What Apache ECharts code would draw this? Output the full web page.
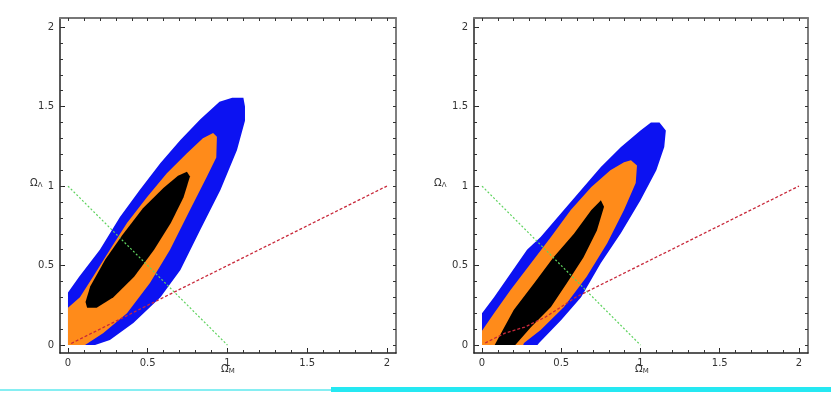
<!DOCTYPE html>
<html>
<head>
<meta charset="utf-8">
<script src="https://cdn.jsdelivr.net/npm/echarts@6/dist/echarts.min.js"></script>
<style>
html,body{margin:0;padding:0;background:#fff;}
#chart{width:831px;height:395px;}
</style>
</head>
<body>
<div id="chart"></div>
<script>
// ---- tick labels ----
const majorTicks = [0, 0.5, 1, 1.5, 2];
const tickLabels = ['0', '0.5', '1', '1.5', '2'];
const minorTicks = [0, 0.1, 0.2, 0.3, 0.4, 0.5, 0.6, 0.7, 0.8, 0.9, 1, 1.1, 1.2, 1.3, 1.4, 1.5, 1.6, 1.7, 1.8, 1.9, 2];

// ---- left panel: confidence regions (boundary points) ----
const leftBlue = [[0,0],[0,0.33],[0.07,0.43],[0.20,0.60],[0.326,0.805],[0.45,0.975],[0.58,1.145],[0.705,1.29],[0.83,1.42],[0.95,1.53],[1.03,1.555],[1.10,1.555],[1.11,1.50],[1.11,1.41],[1.06,1.226],[0.956,0.975],[0.83,0.725],[0.705,0.472],[0.58,0.30],[0.41,0.138],[0.263,0.031],[0.17,0]];
const leftOrange = [[0,0],[0,0.235],[0.075,0.30],[0.157,0.43],[0.263,0.60],[0.37,0.767],[0.495,0.93],[0.62,1.08],[0.746,1.207],[0.846,1.30],[0.91,1.333],[0.934,1.31],[0.93,1.18],[0.87,1.057],[0.765,0.849],[0.64,0.60],[0.514,0.39],[0.37,0.20],[0.22,0.075],[0.107,0]];
const leftBlack = [[0.11,0.27],[0.14,0.37],[0.235,0.54],[0.34,0.69],[0.47,0.86],[0.60,0.99],[0.69,1.065],[0.746,1.09],[0.765,1.06],[0.725,0.93],[0.645,0.767],[0.54,0.6],[0.415,0.43],[0.285,0.30],[0.18,0.235],[0.12,0.235]];
const leftFlat = [[0,1],[1,0]];
const leftQ0 = [[0.02,0.01],[1,0.5],[2,1]];

// ---- right panel ----
const rightBlue = [[0,0],[0,0.20],[0.076,0.30],[0.18,0.45],[0.284,0.60],[0.37,0.68],[0.50,0.83],[0.625,0.975],[0.75,1.12],[0.877,1.245],[1.0,1.35],[1.066,1.40],[1.12,1.40],[1.16,1.35],[1.15,1.245],[1.10,1.10],[1.0,0.91],[0.877,0.704],[0.75,0.516],[0.625,0.30],[0.50,0.157],[0.36,0.013],[0.35,0]];
const rightOrange = [[0,0],[0,0.09],[0.076,0.20],[0.18,0.346],[0.31,0.516],[0.435,0.68],[0.56,0.85],[0.69,0.994],[0.81,1.10],[0.896,1.15],[0.94,1.163],[0.978,1.13],[0.97,1.02],[0.896,0.85],[0.79,0.64],[0.66,0.43],[0.517,0.24],[0.37,0.094],[0.265,0.013],[0.26,0]];
const rightBlack = [[0.08,0],[0.12,0.075],[0.2,0.22],[0.33,0.39],[0.45,0.55],[0.58,0.70],[0.69,0.85],[0.74,0.90],[0.75,0.91],[0.77,0.87],[0.725,0.72],[0.64,0.55],[0.536,0.39],[0.435,0.24],[0.31,0.113],[0.21,0]];
const rightFlat = [[0,1],[1,0]];
const rightQ0 = [[0.02,0.013],[0.145,0.075],[0.27,0.113],[0.40,0.176],[0.50,0.24],[0.59,0.30],[2,1]];

const BLUE = '#0c12f2', ORANGE = '#ff8b1a', BLACK = '#000000';
const GREEN = '#5fd35f', RED = '#c8283a';

const chart = echarts.init(document.getElementById('chart'), null, {renderer: 'canvas'});

const grids = [
  {left: 60, top: 18, width: 336, height: 335, xmin: -0.05, xmax: 2.057, ymin: -0.05, ymax: 2.057},
  {left: 474, top: 18, width: 334, height: 335, xmin: -0.0505, xmax: 2.057, ymin: -0.05, ymax: 2.057}
];

const xAxes = [], yAxes = [];
grids.forEach((g, gi) => {
  const base = {gridIndex: gi, type: 'value', splitLine: {show: false}};
  xAxes.push(Object.assign({}, base, {
    min: g.xmin, max: g.xmax, position: 'bottom',
    axisLine: {show: true, onZero: false, lineStyle: {color: '#222', width: 1.5}},
    axisTick: {show: true, inside: true, length: 5, customValues: majorTicks, lineStyle: {color: '#222'}},
    axisLabel: {show: true, customValues: majorTicks, margin: 5, fontSize: 10, color: '#333', fontFamily: 'DejaVu Sans',
      formatter: v => tickLabels[majorTicks.indexOf(Math.round(v * 10) / 10)] || ''}
  }));
  xAxes.push(Object.assign({}, base, {
    min: g.xmin, max: g.xmax, position: 'bottom',
    axisLine: {show: false, onZero: false},
    axisTick: {show: true, inside: true, length: 3, customValues: minorTicks, lineStyle: {color: '#333'}},
    axisLabel: {show: false}
  }));
  xAxes.push(Object.assign({}, base, {
    min: g.xmin, max: g.xmax, position: 'top',
    axisLine: {show: true, onZero: false, lineStyle: {color: '#777', width: 2}},
    axisTick: {show: true, inside: true, length: 3, customValues: minorTicks, lineStyle: {color: '#333'}},
    axisLabel: {show: false}
  }));
  yAxes.push(Object.assign({}, base, {
    min: g.ymin, max: g.ymax, position: 'left',
    axisLine: {show: true, onZero: false, lineStyle: {color: '#222', width: 1.5}},
    axisTick: {show: true, inside: true, length: 5, customValues: majorTicks, lineStyle: {color: '#222'}},
    axisLabel: {show: true, customValues: majorTicks, margin: 6, fontSize: 10, color: '#333', fontFamily: 'DejaVu Sans',
      formatter: v => tickLabels[majorTicks.indexOf(Math.round(v * 10) / 10)] || ''}
  }));
  yAxes.push(Object.assign({}, base, {
    min: g.ymin, max: g.ymax, position: 'left',
    axisLine: {show: false, onZero: false},
    axisTick: {show: true, inside: true, length: 3, customValues: minorTicks, lineStyle: {color: '#333'}},
    axisLabel: {show: false}
  }));
  yAxes.push(Object.assign({}, base, {
    min: g.ymin, max: g.ymax, position: 'right',
    axisLine: {show: true, onZero: false, lineStyle: {color: '#555', width: 1.5}},
    axisTick: {show: true, inside: true, length: 3, customValues: minorTicks, lineStyle: {color: '#333'}},
    axisLabel: {show: false}
  }));
});

function region(poly, color, gi, z) {
  return {
    type: 'custom', xAxisIndex: gi * 3, yAxisIndex: gi * 3, z: z, silent: true,
    data: poly,
    renderItem: function (params, api) {
      if (params.dataIndex !== 0) return null;
      return {
        type: 'polygon',
        shape: {points: poly.map(p => api.coord(p))},
        style: {fill: color, stroke: null}
      };
    }
  };
}
function line(pts, color, type, width, gi) {
  return {
    type: 'line', xAxisIndex: gi * 3, yAxisIndex: gi * 3, z: 10, silent: true,
    data: pts, symbol: 'none', animation: false,
    lineStyle: {color: color, width: width, type: type}
  };
}

const series = [
  region(leftBlue, BLUE, 0, 2), region(leftOrange, ORANGE, 0, 3), region(leftBlack, BLACK, 0, 4),
  line(leftFlat, GREEN, [2, 2], 1.2, 0), line(leftQ0, RED, [3, 2], 1.3, 0),
  region(rightBlue, BLUE, 1, 2), region(rightOrange, ORANGE, 1, 3), region(rightBlack, BLACK, 1, 4),
  line(rightFlat, GREEN, [2, 2], 1.2, 1), line(rightQ0, RED, [3, 2], 1.3, 1)
];

const nameRich = {
  a: {fontSize: 10, color: '#333', fontFamily: 'DejaVu Sans'},
  b: {fontSize: 7, color: '#333', fontFamily: 'DejaVu Sans', verticalAlign: 'bottom', padding: [4, 0, 0, 0]}
};
function label(x, y, text) {
  return {type: 'text', left: x, top: y, silent: true,
    style: {text: text, rich: nameRich, fill: '#333'}};
}

chart.setOption({
  animation: false,
  backgroundColor: '#ffffff',
  grid: grids.map(g => ({left: g.left, top: g.top, width: g.width, height: g.height, containLabel: false})),
  xAxis: xAxes,
  yAxis: yAxes,
  series: series,
  graphic: [
    label(30, 178, '{a|Ω}{b|Λ}'),
    label(434, 178, '{a|Ω}{b|Λ}'),
    label(221, 364, '{a|Ω}{b|M}'),
    label(635, 364, '{a|Ω}{b|M}'),
    {type: 'rect', left: 0, top: 389, silent: true, shape: {width: 331, height: 2}, style: {fill: '#86eef2'}},
    {type: 'rect', left: 331, top: 387, silent: true, shape: {width: 500, height: 5}, style: {fill: '#25e8f2'}}
  ]
});
</script>
</body>
</html>
